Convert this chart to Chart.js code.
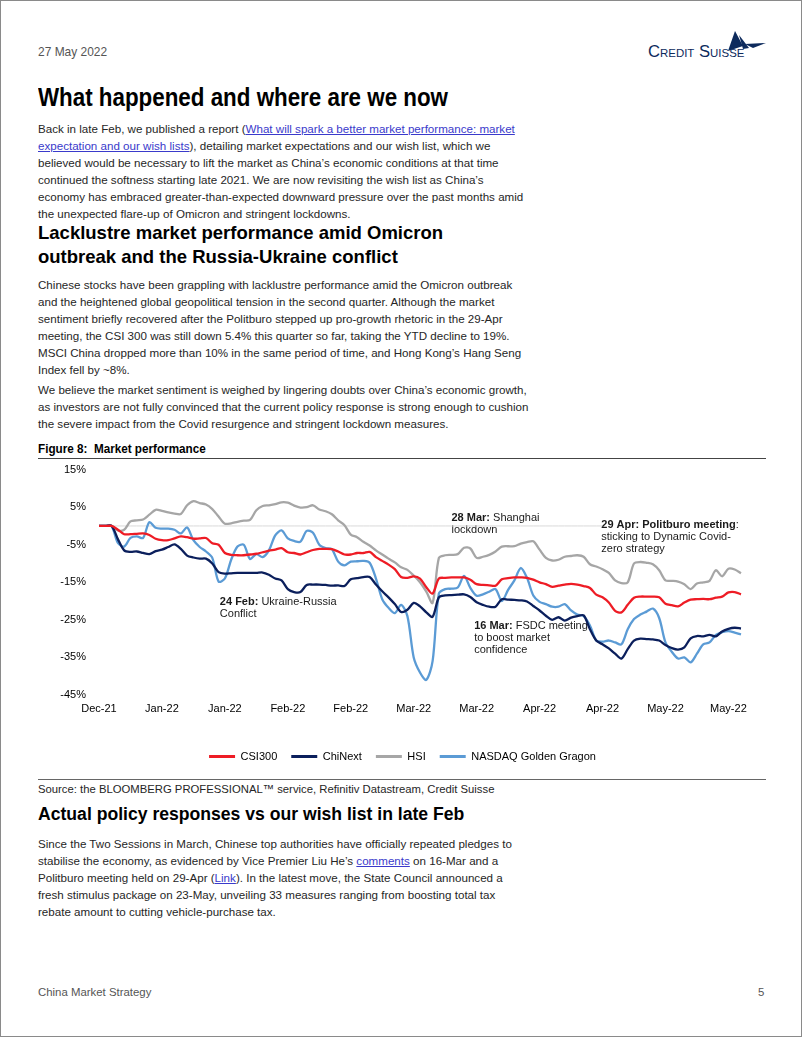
<!DOCTYPE html>
<html>
<head>
<meta charset="utf-8">
<script src="https://cdn.jsdelivr.net/npm/chart.js@4.4.1/dist/chart.umd.min.js"></script>
<style>
  html, body { margin: 0; padding: 0; background: #fff; }
  #page { position: relative; width: 800px; height: 1035px; border: 1px solid #8a8a8a; overflow: hidden;
    font-family: "Liberation Sans", Arial, sans-serif; color: #262626; }
  .abs { position: absolute; white-space: nowrap; transform-origin: 0 0; }
  .date { left: 37px; top: 43px; font-size: 13px; color: #555; transform: scaleX(0.92); }
  .logo { left: 647px; top: 42px; font-size: 16px; font-variant: small-caps; color: #0d2a5c; transform: scaleX(1.04); }
  .h1 { left: 37px; top: 81px; font: bold 26px/30px "Liberation Sans", Arial, sans-serif; color: #000; transform: scaleX(0.86); }
  .h2 { left: 37px; font: bold 18.5px/24px "Liberation Sans", Arial, sans-serif; color: #000; }
  .p { left: 37px; font-size: 11.6px; line-height: 17px; }
  .p a { color: #3a3acb; text-decoration: underline; }
  .fig { left: 37px; top: 440px; font: bold 13px/15px "Liberation Sans", Arial, sans-serif; color: #000; transform: scaleX(0.9); }
  .rule { position: absolute; left: 37px; width: 728px; height: 1px; background: #444; }
  .src { left: 37px; top: 781px; font-size: 11.3px; line-height: 14px; color: #262626; }
  .foot { top: 984px; font-size: 11.4px; line-height: 14px; color: #555; }
  #chartBox { position: absolute; left: 38px; top: 449px; width: 727px; height: 322px; }
</style>
</head>
<body>
<div id="page">
  <div class="abs date">27 May 2022</div>
  <div class="abs logo">Credit Suisse</div>
  <svg class="abs" style="left:724px;top:29px" width="42" height="22" viewBox="0 0 42 22">
    <path d="M10 1 L18 16 L3 21 Z" fill="#0d2a5c"/>
    <path d="M14 5 L24 18 L18 19 Z" fill="#0d2a5c"/>
    <path d="M20 14 L41 13 L28 18 Z" fill="#0d2a5c"/>
  </svg>

  <div class="abs h1">What happened and where are we now</div>

  <div class="abs p" style="top:119px">
    Back in late Feb, we published a report (<a>What will spark a better market performance: market</a><br>
    <a>expectation and our wish lists</a>), detailing market expectations and our wish list, which we<br>
    believed would be necessary to lift the market as China’s economic conditions at that time<br>
    continued the softness starting late 2021. We are now revisiting the wish list as China’s<br>
    economy has embraced greater-than-expected downward pressure over the past months amid<br>
    the unexpected flare-up of Omicron and stringent lockdowns.
  </div>

  <div class="abs h2" style="top:220px">Lacklustre market performance amid Omicron<br>outbreak and the Russia-Ukraine conflict</div>

  <div class="abs p" style="top:275px">
    Chinese stocks have been grappling with lacklustre performance amid the Omicron outbreak<br>
    and the heightened global geopolitical tension in the second quarter. Although the market<br>
    sentiment briefly recovered after the Politburo stepped up pro-growth rhetoric in the 29-Apr<br>
    meeting, the CSI 300 was still down 5.4% this quarter so far, taking the YTD decline to 19%.<br>
    MSCI China dropped more than 10% in the same period of time, and Hong Kong’s Hang Seng<br>
    Index fell by ~8%.
  </div>

  <div class="abs p" style="top:380px">
    We believe the market sentiment is weighed by lingering doubts over China’s economic growth,<br>
    as investors are not fully convinced that the current policy response is strong enough to cushion<br>
    the severe impact from the Covid resurgence and stringent lockdown measures.
  </div>

  <div class="abs fig">Figure 8:&nbsp; Market performance</div>
  <div class="rule" style="top:457px"></div>

  <div id="chartBox"><canvas id="marketChart" width="727" height="322"></canvas></div>

  <div class="rule" style="top:778px;background:#666"></div>
  <div class="abs src">Source: the BLOOMBERG PROFESSIONAL™ service, Refinitiv Datastream, Credit Suisse</div>

  <div class="abs h2" style="top:801px;font-size:17.6px">Actual policy responses vs our wish list in late Feb</div>

  <div class="abs p" style="top:834px">
    Since the Two Sessions in March, Chinese top authorities have officially repeated pledges to<br>
    stabilise the economy, as evidenced by Vice Premier Liu He’s <a>comments</a> on 16-Mar and a<br>
    Politburo meeting held on 29-Apr (<a>Link</a>). In the latest move, the State Council announced a<br>
    fresh stimulus package on 23-May, unveiling 33 measures ranging from boosting total tax<br>
    rebate amount to cutting vehicle-purchase tax.
  </div>

  <div class="abs foot" style="left:37px">China Market Strategy</div>
  <div class="abs foot" style="left:757px">5</div>
</div>

<script>
// tick labels, one every 10 trading days
const TICK_LABELS = ["Dec-21", "Jan-22", "Jan-22", "Feb-22", "Feb-22", "Mar-22",
  "Mar-22", "Apr-22", "Apr-22", "May-22", "May-22"];
const POINTS_PER_TICK = 10;

// cumulative performance since end-Dec 2021, %
const CSI300 = [
  0, 0, 0, -1.0, -2.2, -2.2, -2.1, -2.0, -2.4, -3.4,
  -3.8, -3.8, -3.3, -2.8, -3.0, -3.4, -3.3, -3.2, -4.6, -5.0,
  -7.2, -7.7, -7.8, -7.8, -7.6, -7.4, -7.0, -6.6, -6.3, -5.9,
  -7.0, -7.2, -7.6, -7.0, -6.4, -6.1, -6.1, -6.2, -6.8, -7.6,
  -7.6, -7.2, -7.2, -6.9, -8.3, -9.3, -10.3, -11.5, -13.6, -13.8,
  -13.4, -14.0, -16.3, -18.0, -14.0, -13.8, -13.7, -13.7, -13.7, -14.3,
  -15.5, -15.7, -15.8, -15.9, -14.2, -13.9, -13.7, -13.7, -13.8, -14.3,
  -15.0, -15.5, -16.2, -15.9, -15.6, -15.4, -15.6, -16.0, -16.5, -18.3,
  -19.0, -20.4, -22.6, -23.0, -21.0, -19.1, -18.8, -18.8, -18.8, -19.0,
  -20.7, -21.1, -21.4, -20.4, -19.6, -19.5, -19.4, -19.5, -19.1, -18.8,
  -17.7, -17.6, -18.2
];
const CHINEXT = [
  0, 0, 0, -3.5, -6.5, -6.9, -6.8, -7.2, -7.5, -6.7,
  -6.3, -5.6, -4.9, -6.1, -7.9, -8.4, -8.7, -8.7, -10.0, -12.3,
  -12.7, -12.6, -12.5, -12.5, -12.5, -12.5, -12.4, -13.0, -14.0, -14.5,
  -16.8, -17.6, -17.6, -15.7, -15.6, -15.6, -15.7, -15.9, -15.8, -16.0,
  -14.2, -13.9, -13.6, -13.6, -15.6, -17.4, -19.0, -20.8, -22.9, -22.3,
  -20.5, -21.4, -23.0, -24.2, -19.0, -18.5, -18.4, -18.3, -18.2, -18.9,
  -20.3, -21.0, -21.5, -21.5, -19.5, -19.6, -19.7, -19.8, -20.1, -21.3,
  -22.5, -23.9, -25.0, -24.3, -25.2, -24.4, -24.0, -23.8, -27.5, -30.5,
  -31.5, -32.6, -34.0, -35.3, -32.8, -30.5, -30.0, -30.1, -30.2, -30.5,
  -31.7, -32.5, -32.9, -32.3, -29.9, -29.3, -29.4, -29.0, -29.4, -28.1,
  -27.4, -27.1, -27.3
];
const HSI = [
  0, 0, 0, -1.2, -1.0, 1.2, 1.5, 1.7, 3.0, 4.3,
  4.0, 3.6, 3.3, 3.2, 5.5, 6.6, 6.1, 5.7, 4.5, 2.5,
  0.6, 0.7, 1.1, 1.4, 1.6, 4.2, 5.3, 5.5, 5.8, 6.3,
  6.2, 5.4, 4.9, 5.0, 5.5, 4.4, 3.9, 3.1, 1.5, 0.2,
  -2.3, -3.0, -4.2, -5.2, -6.5, -7.6, -8.7, -9.7, -11.0, -11.7,
  -13.2, -15.0, -17.5, -20.5, -8.5, -7.8, -7.7, -7.5, -5.8, -6.0,
  -8.5, -8.2, -7.7, -6.8, -5.5, -5.4, -5.4, -4.7, -4.3, -4.1,
  -6.3, -8.5, -9.2, -9.0, -8.2, -8.0, -7.8, -8.2, -10.2, -10.8,
  -11.5, -12.5, -14.5, -15.2, -15.0, -10.0, -9.6, -9.8, -10.2, -11.8,
  -14.5, -14.6, -14.8, -15.5, -16.8, -15.3, -15.0, -14.6, -11.8, -13.4,
  -11.4, -11.6, -12.6
];
const NASDAQ_GD = [
  0, 0, 0, -4.5, -5.5, -3.2, -2.8, -3.2, 1.0, -0.5,
  -0.7, -0.7, -1.0, -2.0, -0.4, -3.8, -5.6, -6.8, -8.5, -14.8,
  -14.0, -9.0, -5.5, -5.0, -8.8, -7.5, -8.3, -6.5, -2.5, -1.2,
  -3.3, -4.0, -4.2, -1.3, -1.8, -5.0, -5.9, -6.2, -9.5, -10.5,
  -9.5, -9.4, -9.3, -9.8, -14.0, -19.5, -21.8, -23.2, -21.0, -24.0,
  -35.0, -39.0, -41.0, -36.0, -18.0, -16.8, -16.7, -16.4, -13.3, -16.5,
  -18.6, -18.2, -17.5, -16.8, -20.0, -17.0, -14.5, -11.2, -13.8, -18.5,
  -20.2, -20.8, -21.5, -21.5, -20.8, -22.5, -23.6, -24.0, -26.5, -30.5,
  -30.8, -30.5, -31.0, -31.5, -27.5, -24.8, -23.6, -22.8, -22.0, -24.5,
  -31.0, -33.5, -35.3, -35.0, -36.3, -34.0, -31.5, -31.0, -29.0, -28.3,
  -28.0, -28.4, -28.9
];
// faint reference line at 0% runs up to the 29 Apr note
const LEADER_END = 80;

const SERIES = [
  { label: "CSI300", data: CSI300, color: "#ee1c25" },
  { label: "ChiNext", data: CHINEXT, color: "#0b1f5c" },
  { label: "HSI", data: HSI, color: "#a6a6a6" },
  { label: "NASDAQ Golden Gragon", data: NASDAQ_GD, color: "#5b9bd5" },
];

const NOTES = [
  { idx: 19.2, val: -20.2, bold: "24 Feb:", lines: [" Ukraine-Russia", "Conflict"] },
  { idx: 56.0, val: 2.2, bold: "28 Mar:", lines: [" Shanghai", "lockdown"] },
  { idx: 59.6, val: -26.6, bold: "16 Mar:", lines: [" FSDC meeting", "to boost market", "confidence"] },
  { idx: 79.8, val: 0.3, bold: "29 Apr: Politburo meeting", lines: [":", "sticking to Dynamic Covid-", "zero strategy"] },
];

const labels = CSI300.map((_, i) => (i % POINTS_PER_TICK === 0 ? TICK_LABELS[i / POINTS_PER_TICK] : ""));
const FONT = "'Liberation Sans', Arial, sans-serif";

const notesPlugin = {
  id: "notes",
  beforeDatasetsDraw(chart) {
    const { ctx, scales } = chart;
    ctx.save();
    ctx.fillStyle = "#1a1a1a";
    ctx.textBaseline = "middle";
    NOTES.forEach((n) => {
      const x = scales.x.getPixelForValue(n.idx);
      let y = scales.y.getPixelForValue(n.val);
      ctx.font = "bold 11px " + FONT;
      ctx.fillText(n.bold, x, y);
      const w = ctx.measureText(n.bold).width;
      ctx.font = "11px " + FONT;
      ctx.fillText(n.lines[0], x + w, y);
      n.lines.slice(1).forEach((line) => {
        y += 12;
        ctx.fillText(line, x, y);
      });
    });
    ctx.restore();
  },
};

const datasets = SERIES.map((s) => ({
  label: s.label,
  data: s.data,
  borderColor: s.color,
  backgroundColor: s.color,
  borderWidth: 2.3,
  pointRadius: 0,
  tension: 0.3,
}));
datasets.push({
  label: "zero",
  data: labels.map((_, i) => (i <= LEADER_END ? 0 : null)),
  borderColor: "#d9d9d9",
  borderWidth: 1,
  pointRadius: 0,
  tension: 0,
});

new Chart(document.getElementById("marketChart"), {
  type: "line",
  data: { labels, datasets },
  plugins: [notesPlugin],
  options: {
    responsive: false,
    animation: false,
    layout: { padding: 0 },
    plugins: {
      tooltip: { enabled: false },
      legend: {
        position: "bottom",
        labels: {
          boxWidth: 26,
          boxHeight: 3,
          padding: 14,
          color: "#000",
          font: { size: 11, family: FONT },
          generateLabels: (chart) =>
            Chart.defaults.plugins.legend.labels.generateLabels(chart)
              .filter((item) => item.datasetIndex < SERIES.length)
              .map((item) => ({ ...item, lineWidth: 0 })),
        },
      },
    },
    scales: {
      x: {
        grid: { display: false, drawTicks: false },
        border: { display: false },
        ticks: {
          autoSkip: false,
          maxRotation: 0,
          padding: 7,
          color: "#000",
          font: { size: 11, family: FONT },
        },
        afterFit: (scale) => { scale.height = 42; },
      },
      y: {
        min: -45,
        max: 15,
        grid: { display: false, drawTicks: false },
        border: { display: false },
        ticks: {
          stepSize: 10,
          padding: 13,
          color: "#000",
          font: { size: 11, family: FONT },
          callback: (v) => v + "%",
        },
        afterFit: (scale) => {
          scale.width = 60;
          // don't clip the minus signs of the wider labels
          scale._computeLabelArea = () => undefined;
        },
      },
      // empty right-hand axis keeps the plot clear of the right edge
      yRight: {
        position: "right",
        min: -45,
        max: 15,
        grid: { display: false, drawTicks: false },
        border: { display: false },
        ticks: { display: false },
        afterFit: (scale) => { scale.width = 25; },
      },
    },
  },
});
</script>
</body>
</html>
